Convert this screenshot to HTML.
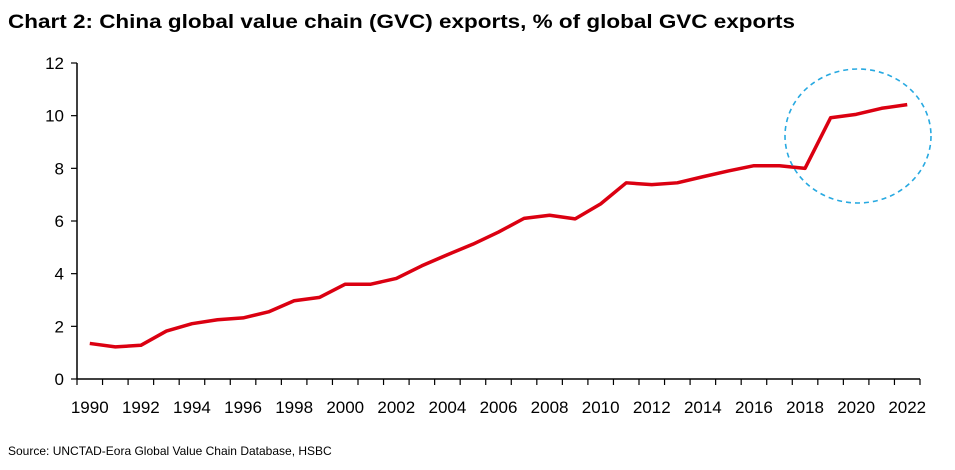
<!DOCTYPE html>
<html><head><meta charset="utf-8"><style>
body{margin:0;background:#fff;width:955px;height:465px;overflow:hidden;font-family:"Liberation Sans",Arial,sans-serif}
</style></head><body>
<svg width="955" height="465">
<text x="8" y="28" font-size="19" font-weight="bold" fill="#000" textLength="787" lengthAdjust="spacingAndGlyphs">Chart 2: China global value chain (GVC) exports, % of global GVC exports</text>
<g id="axes"></g>
<text x="8" y="455" font-size="12" fill="#000">Source: UNCTAD-Eora Global Value Chain Database, HSBC</text>
</svg>
<script>
const years=[];for(let y=1990;y<=2022;y++)years.push(y);
const values=[1.35,1.22,1.28,1.82,2.1,2.25,2.32,2.55,2.97,3.1,3.6,3.6,3.82,4.3,4.72,5.12,5.58,6.1,6.22,6.08,6.65,7.45,7.38,7.45,7.68,7.9,8.1,8.1,8.0,9.92,10.05,10.28,10.42];
const yTicks=[0,2,4,6,8,10,12];
const NS="http://www.w3.org/2000/svg";
const g=document.getElementById('axes');
const x0=77,x1=920,y0=379,yTop=63;
const bw=(x1-x0)/years.length;
const xs=i=>x0+bw*(i+0.5);
const ys=v=>y0-(y0-yTop)*v/12;
function mk(t,a){const e=document.createElementNS(NS,t);for(const k in a)e.setAttribute(k,a[k]);g.appendChild(e);return e;}
let e=mk('line',{x1:x0,y1:y0,x2:x1,y2:y0,stroke:'#000','stroke-width':1.5});


e=mk('line',{x1:x0,y1:y0,x2:x0,y2:yTop,stroke:'#000','stroke-width':1.5});


yTicks.forEach(v=>{
 e=mk('line',{x1:x0-6,y1:ys(v),x2:x0,y2:ys(v),stroke:'#000','stroke-width':1.2});
 
 
 e=mk('text',{x:x0-13,y:ys(v)+6,'font-size':17,'text-anchor':'end'});e.textContent=v;
 
 
});
for(let i=0;i<=years.length;i++){
 e=mk('line',{x1:x0+bw*i,y1:y0,x2:x0+bw*i,y2:y0+6,stroke:'#000','stroke-width':1.2});
 
 
}
years.forEach((y,i)=>{if(y%2==0){
 e=mk('text',{x:xs(i),y:y0+34,'font-size':17,'text-anchor':'middle'});e.textContent=y;
 
 
}});
e=mk('polyline',{points:values.map((v,i)=>xs(i)+','+ys(v)).join(' '),fill:'none',stroke:'#db0011','stroke-width':3.5,'stroke-linejoin':'round'});


e=mk('ellipse',{cx:858,cy:136,rx:73,ry:67,fill:'none',stroke:'#27a9e1','stroke-width':1.6,'stroke-dasharray':'5,4'});


</script>
</body></html>
